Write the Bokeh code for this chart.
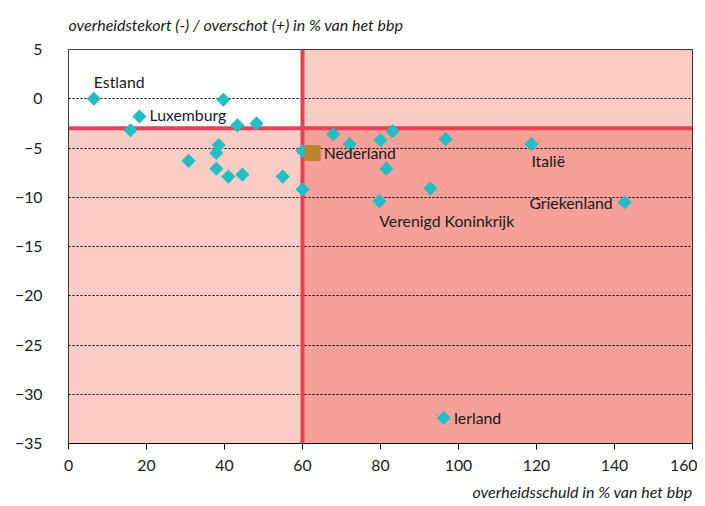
import math
from bokeh.plotting import figure
from bokeh.models import ColumnDataSource, Span, FixedTicker, Title, LabelSet
from bokeh.core.properties import value
from bokeh.embed import file_html
from bokeh.resources import INLINE

# Data: government debt (x, % of GDP) vs deficit/surplus (y, % of GDP)
debt = [6.5, 39.7, 18.2, 15.9, 43.3, 48.2, 30.8, 38.5, 37.9, 37.9, 41.0, 44.6,
        54.9, 60.0, 60.0, 67.9, 72.1, 80.0, 83.1, 81.5, 96.7, 118.7, 92.8, 79.7,
        142.6, 96.2]
deficit = [0.0, -0.1, -1.8, -3.2, -2.7, -2.5, -6.3, -4.7, -5.5, -7.1, -7.9, -7.7,
           -7.9, -9.2, -5.3, -3.6, -4.6, -4.2, -3.3, -7.1, -4.1, -4.6, -9.1, -10.4,
           -10.5, -32.4]

nl_debt = [62.6]
nl_deficit = [-5.5]

label_names = ["Estland", "Luxemburg", "Nederland", "Italië", "Griekenland",
               "Verenigd Koninkrijk", "Ierland"]
label_x = [6.5, 18.2, 62.6, 118.7, 142.6, 79.7, 96.2]
label_y = [0.0, -1.8, -5.5, -4.6, -10.5, -10.4, -32.4]
label_dx = [0, 10, 11, 0, -12, 0, 10]
label_dy = [8, 2, 0, -16, 0, -19, 0]
label_align = ["left", "left", "left", "left", "right", "left", "left"]
label_base = ["bottom", "middle", "middle", "middle", "middle", "middle", "middle"]

debt_limit = 60
deficit_limit = -3
x_ticks = [0, 20, 40, 60, 80, 100, 120, 140, 160]
y_ticks = [5, 0, -5, -10, -15, -20, -25, -30, -35]
x_min, x_max, y_min, y_max = 0, 160, -35, 5

y_title = "overheidstekort (-) / overschot (+) in % van het bbp"
x_title = "overheidsschuld in % van het bbp"

FONT = "Lato"
FS = "15.8px"

p = figure(width=697, height=506, output_backend="svg", toolbar_location=None,
           x_range=(x_min, x_max), y_range=(y_min, y_max),
           min_border_left=68, min_border_right=5, min_border_top=49, min_border_bottom=0)

# background regions
p.quad(left=[x_min, x_min, debt_limit, debt_limit],
       right=[debt_limit, debt_limit, x_max, x_max],
       bottom=[deficit_limit, y_min, deficit_limit, y_min],
       top=[y_max, deficit_limit, y_max, deficit_limit],
       fill_color=["#ffffff", "#f9ccc5", "#f9ccc5", "#f5a098"],
       line_color=None, level="image")

# reference lines
p.add_layout(Span(location=debt_limit, dimension="height", line_color="#ea3f56",
                  line_width=4, level="underlay"))
p.add_layout(Span(location=deficit_limit, dimension="width", line_color="#ea3f56",
                  line_width=4, level="underlay"))

p.scatter(debt, deficit, marker="square", size=10, angle=math.pi / 4,
          fill_color="#22bec3", line_color=None)
p.scatter(nl_debt, nl_deficit, marker="square", size=16, fill_color="#b88430", line_color=None)

src = ColumnDataSource(dict(x=label_x, y=label_y, t=label_names, dx=label_dx, dy=label_dy,
                            al=label_align, bl=label_base))
p.add_layout(LabelSet(x="x", y="y", text="t", source=src, x_offset="dx", y_offset="dy",
                      text_align="al", text_baseline="bl", text_font=value(FONT),
                      text_font_size=FS, text_color="#1a1a1a"))

# grid
p.xgrid.grid_line_color = None
p.ygrid.ticker = FixedTicker(ticks=[0, -5, -10, -15, -20, -25, -30])
p.ygrid.grid_line_color = "#000000"
p.ygrid.grid_line_dash = "2 2"
p.ygrid.grid_line_width = 1

# axes
p.xaxis.ticker = FixedTicker(ticks=x_ticks)
p.yaxis.ticker = FixedTicker(ticks=y_ticks)
p.yaxis.major_label_overrides = {t: (str(t).replace("-", "\u2212")) for t in y_ticks}
for ax in (p.xaxis[0], p.yaxis[0]):
    ax.major_label_text_font = FONT
    ax.major_label_text_font_size = FS
    ax.major_label_text_color = "#1a1a1a"
    ax.minor_tick_line_color = None
    ax.axis_line_color = "#000000"
p.xaxis.major_tick_line_color = "#000000"
p.xaxis.major_tick_out = 6
p.xaxis.major_tick_in = 0
p.xaxis.major_label_standoff = 10
p.yaxis.major_tick_line_color = None
p.yaxis.axis_line_color = None
p.yaxis.major_label_standoff = 20

p.outline_line_color = "#000000"
p.outline_line_width = 1
p.background_fill_color = "#ffffff"

p.add_layout(Title(text=y_title, align="left", vertical_align="top", text_font=FONT,
                   text_font_style="italic", text_font_size="16px", text_color="#1a1a1a",
                   offset=0, standoff=28), "above")
p.add_layout(Title(text=x_title, align="right", text_font=FONT, text_font_style="italic",
                   text_font_size="16px", text_color="#1a1a1a", standoff=12), "below")

open("out.html", "w").write(file_html(p, INLINE))
